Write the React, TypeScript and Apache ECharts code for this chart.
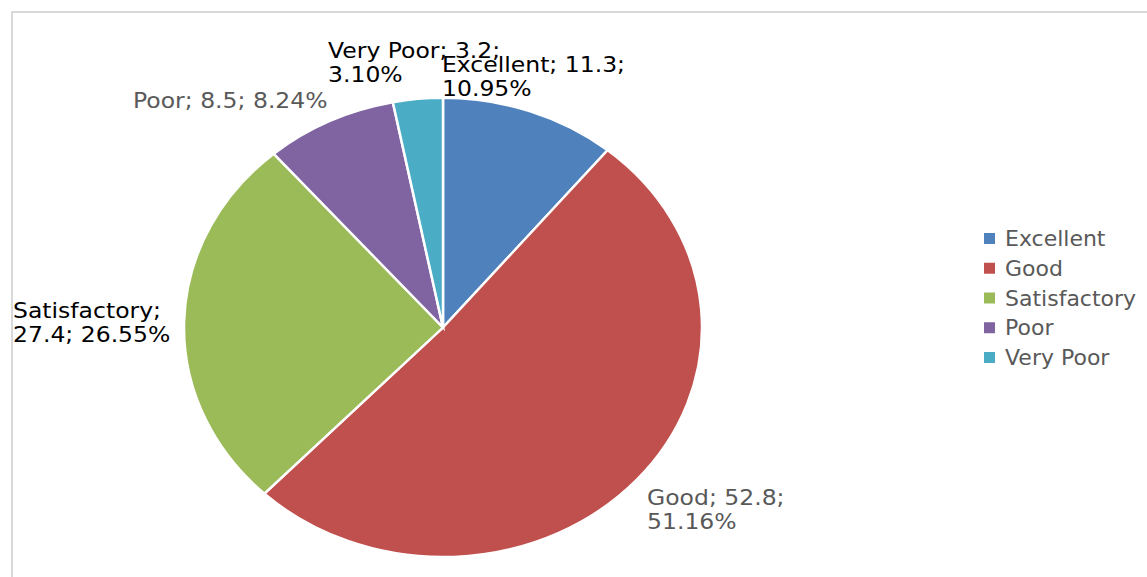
import React, { useEffect, useRef } from "react";
import * as echarts from "echarts";

const categories = ["Excellent", "Good", "Satisfactory", "Poor", "Very Poor"];
const values = [11.3, 52.8, 27.4, 8.5, 3.2];

const colors = ["#4F81BD", "#C0504D", "#9BBB59", "#8064A2", "#4BACC6"];
const labelColors = ["#000000", "#595959", "#000000", "#595959", "#000000"];
// label layout: left x, vertical centre of the text block, line break after N parts
const labelLayout = [
  { x: 442, y: 76.5, breakAfter: 2 },
  { x: 647, y: 509.5, breakAfter: 2 },
  { x: 13, y: 322, breakAfter: 1 },
  { x: 133, y: 100.8, breakAfter: 3 },
  { x: 328, y: 62.8, breakAfter: 2 },
];

const CX = 443;
const CY = 327.5;
const RX = 259;
const RY = 229.5;
const FONT = "DejaVu Sans";
const TEXT_SCALE = 1.12;

export default function App() {
  const ref = useRef<HTMLDivElement>(null);

  useEffect(() => {
    if (!ref.current) return;
    const chart = echarts.init(ref.current, null, { renderer: "svg" });
    const total = values.reduce((a, b) => a + b, 0);

    const renderItem = (params: any) => {
      const i = params.seriesIndex;
      let before = 0;
      for (let k = 0; k < i; k++) before += values[k];
      const start = -Math.PI / 2 + (2 * Math.PI * before) / total;
      const end = start + (2 * Math.PI * values[i]) / total;
      const pct = ((values[i] / total) * 100).toFixed(2) + "%";
      const parts = [categories[i] + ";", values[i] + ";", pct];
      const lay = labelLayout[i];
      const line1 = parts.slice(0, lay.breakAfter).join(" ");
      const line2 = parts.slice(lay.breakAfter).join(" ");
      const text = line2 ? line1 + "\n" + line2 : line1;
      return {
        type: "group",
        children: [
          {
            type: "sector",
            shape: { cx: CX, cy: CY, r: RX, r0: 0, startAngle: start, endAngle: end, clockwise: true },
            scaleY: RY / RX,
            originX: CX,
            originY: CY,
            style: { fill: colors[i], stroke: "#ffffff", lineWidth: 2.5, strokeNoScale: true },
          },
          {
            type: "text",
            x: lay.x,
            y: lay.y,
            scaleX: TEXT_SCALE,
            style: {
              text,
              x: 0,
              y: 0,
              fill: labelColors[i],
              fontFamily: FONT,
              fontSize: 21,
              lineHeight: 24,
              align: "left",
              verticalAlign: "middle",
            },
          },
        ],
      };
    };

    chart.setOption({
      animation: false,
      color: colors,
      graphic: [
        {
          type: "rect",
          shape: { x: 12, y: 12, width: 1200, height: 620 },
          style: { fill: "none", stroke: "#d9d9d9", lineWidth: 2 },
          silent: true,
          z: -10,
        },
      ],
      legend: {
        orient: "vertical",
        left: 984,
        top: 227.5,
        padding: 0,
        icon: "rect",
        itemWidth: 11,
        itemHeight: 11,
        itemGap: 7.75,
        data: categories,
        selectedMode: false,
        textStyle: {
          fontFamily: FONT,
          fontSize: 22,
          lineHeight: 22,
          color: "#595959",
          padding: [0, 0, 0, 5],
        },
      },
      series: categories.map((name, i) => ({
        type: "custom",
        name,
        coordinateSystem: "none",
        renderItem,
        silent: true,
        itemStyle: { color: colors[i] },
        data: [values[i]],
      })),
    });
    return () => chart.dispose();
  }, []);

  return (
    <div
      ref={ref}
      style={{ position: "fixed", left: 0, top: 0, width: 1147, height: 577, background: "#ffffff" }}
    />
  );
}
